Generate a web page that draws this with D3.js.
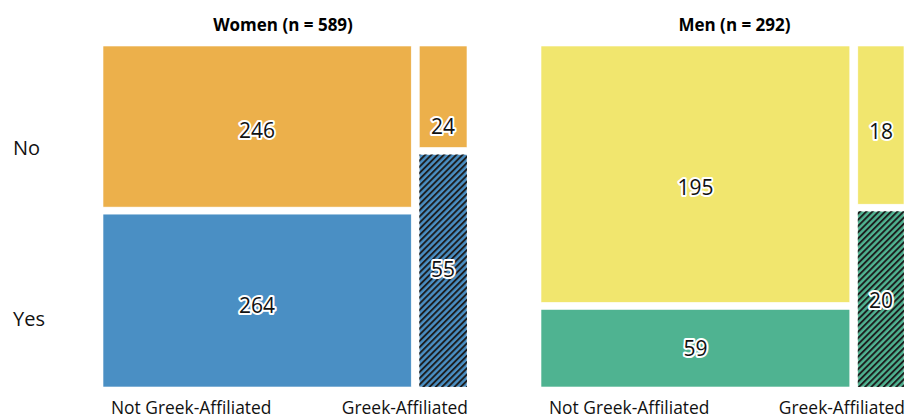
<!DOCTYPE html>
<html lang="en">
<head>
    <meta charset="UTF-8">
    <title>Mosaic - Greek affiliation</title>
    <script src="https://d3js.org/d3.v7.min.js"></script>
    <style>
        body{
            margin: 0;
            background-color: white;
        }
        svg text{
            font-family: "Open Sans", "Noto Sans", sans-serif;
        }
        .title{
            font-weight: bold;
            font-size: 17px;
        }
        .axisLabel{
            font-size: 17.4px;
            fill: #111;
        }
        .count{
            font-size: 21px;
            fill: #111;
            stroke: white;
            stroke-width: 4px;
            paint-order: stroke;
            stroke-linejoin: round;
        }
        rect.cell{
            stroke: white;
            stroke-width: .6px;
        }
    </style>
</head>
<body>
<svg id="chart" width="909" height="419"></svg>
<script>
    // data
    let panels = ["Women", "Men"];
    let affiliations = ["Not Greek-Affiliated", "Greek-Affiliated"];
    let answers = ["No", "Yes"];
    // counts per affiliation, [No, Yes]
    let womenCounts = [[246, 264], [24, 55]];
    let menCounts = [[195, 59], [18, 20]];
    let womenColors = ["#ecb04b", "#4a8fc4"];
    let menColors = ["#f1e66e", "#4fb391"];

    let svg = d3.select('#chart');
    let gap = 8;
    let plotTop = 46, plotBottom = 387;
    let panelRanges = [[103, 467], [541, 904]];
    let titleShift = [-2, 12];
    // small vertical nudges of the count labels, as in the original
    let labelNudge = [[[4, 5], [30, -1]], [[13, 0], [7, 2]]];

    let defs = svg.append('defs');
    let hatch = defs.append('pattern')
        .attr('id', 'hatch')
        .attr('patternUnits', 'userSpaceOnUse')
        .attr('width', 4.4)
        .attr('height', 4.4)
        .attr('patternTransform', 'rotate(45)');
    hatch.append('line')
        .attr('x1', 1).attr('y1', 0)
        .attr('x2', 1).attr('y2', 4.4)
        .attr('stroke', '#1a1a1a')
        .attr('stroke-width', 1.9);

    // row labels (No / Yes)
    let rowScale = d3.scalePoint()
        .domain(answers)
        .range([plotTop, plotBottom])
        .padding(0.5)
        .align(0.6);
    svg.selectAll('text.rowLabel')
        .data(answers)
        .enter()
        .append('text')
        .attr('class', 'axisLabel rowLabel')
        .attr('x', 13)
        .attr('y', d => rowScale(d))
        .attr('dy', '0.35em')
        .style('font-size', '20px')
        .text(d => d);

    let allCounts = [womenCounts, menCounts];
    let allColors = [womenColors, menColors];

    panels.forEach(function (panel, p) {
        let counts = allCounts[p];
        let colors = allColors[p];
        let colTotals = counts.map(c => d3.sum(c));
        let n = d3.sum(colTotals);
        let range = panelRanges[p];
        let x = d3.scaleLinear()
            .domain([0, n])
            .range([range[0], range[1] - gap]);
        let g = svg.append('g');

        g.append('text')
            .attr('class', 'title')
            .attr('x', (range[0] + range[1]) / 2 + titleShift[p])
            .attr('y', 31)
            .attr('text-anchor', 'middle')
            .text(panel + " (n = " + n + ")");

        let cum = 0;
        counts.forEach(function (col, c) {
            let x0 = x(cum) + c * gap;
            let x1 = x(cum + colTotals[c]) + c * gap;
            cum += colTotals[c];
            let y = d3.scaleLinear()
                .domain([0, colTotals[c]])
                .range([plotTop, plotBottom - gap + 1]);
            let cells = [];
            let acc = 0;
            col.forEach(function (v, r) {
                cells.push({
                    x0: x0, x1: x1,
                    y0: y(acc) + r * (gap - 1),
                    y1: y(acc + v) + r * (gap - 1),
                    value: v,
                    color: colors[r],
                    nudge: labelNudge[p][c][r],
                    hatched: c === 1 && r === 1
                });
                acc += v;
            });
            g.selectAll(null)
                .data(cells)
                .enter()
                .append('rect')
                .attr('class', 'cell')
                .attr('x', d => d.x0)
                .attr('y', d => d.y0)
                .attr('width', d => d.x1 - d.x0)
                .attr('height', d => d.y1 - d.y0)
                .attr('fill', d => d.color);
            g.selectAll(null)
                .data(cells.filter(d => d.hatched))
                .enter()
                .append('rect')
                .attr('x', d => d.x0)
                .attr('y', d => d.y0)
                .attr('width', d => d.x1 - d.x0)
                .attr('height', d => d.y1 - d.y0)
                .attr('fill', 'url(#hatch)');
            g.selectAll(null)
                .data(cells)
                .enter()
                .append('text')
                .attr('class', 'count')
                .attr('x', d => (d.x0 + d.x1) / 2)
                .attr('y', d => (d.y0 + d.y1) / 2 + d.nudge)
                .attr('dy', '0.35em')
                .attr('text-anchor', 'middle')
                .text(d => d.value);

            // column label
            g.append('text')
                .attr('class', 'axisLabel')
                .attr('x', c === 0 ? x0 + 8 : x1 + 1)
                .attr('y', 414)
                .attr('text-anchor', c === 0 ? 'start' : 'end')
                .text(affiliations[c]);
        });
    });
</script>
</body>
</html>
